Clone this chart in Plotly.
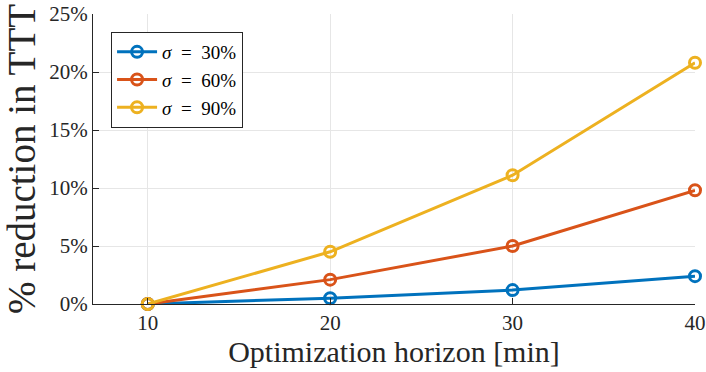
import plotly.graph_objects as go

horizon = [10, 20, 30, 40]
sigma_labels = ["<i>σ</i>\u2002=\u200230%", "<i>σ</i>\u2002=\u200260%", "<i>σ</i>\u2002=\u200290%"]
red_30 = [0.0, 0.5, 1.2, 2.4]
red_60 = [0.0, 2.1, 5.0, 9.8]
red_90 = [0.0, 4.5, 11.1, 20.8]
colors = ["#0072BD", "#D95319", "#EDB120"]

font = "Liberation Serif"

fig = go.Figure()
for name, vals, c in zip(sigma_labels, [red_30, red_60, red_90], colors):
    fig.add_trace(go.Scatter(
        x=horizon, y=vals, name=name,
        mode="lines+markers",
        line=dict(color=c, width=3),
        marker=dict(symbol="circle-open", size=11, color=c, line=dict(width=3)),
        cliponaxis=False,
    ))

fig.update_layout(
    width=706, height=372,
    margin=dict(l=93, r=11, t=14, b=68),
    paper_bgcolor="white",
    plot_bgcolor="white",
    font=dict(family=font, size=21, color="#262626"),
    showlegend=True,
    legend=dict(
        x=0.03, y=0.938, xanchor="left", yanchor="top",
        bgcolor="white", bordercolor="#262626", borderwidth=1,
        font=dict(family=font, size=19, color="#000000"),
        tracegroupgap=0, itemwidth=40,
    ),
    xaxis=dict(
        range=[7, 40],
        tickvals=horizon,
        automargin=False,
        tickfont=dict(family=font, size=21),
        showgrid=True, gridcolor="#e6e6e6", gridwidth=1,
        showline=True, linecolor="#262626", linewidth=1,
        ticks="inside", ticklen=6, tickcolor="#262626",
        zeroline=False,
        title=dict(text="Optimization horizon [min]",
                   font=dict(family=font, size=30, color="#262626"), standoff=5),
    ),
    yaxis=dict(
        range=[0, 25],
        tickvals=[0, 5, 10, 15, 20, 25],
        ticktext=["0%", "5%", "10%", "15%", "20%", "25%"],
        automargin=False,
        tickfont=dict(family=font, size=21),
        showgrid=True, gridcolor="#e6e6e6", gridwidth=1,
        showline=True, linecolor="#262626", linewidth=1,
        ticks="inside", ticklen=6, tickcolor="#262626",
        zeroline=False,
        title=dict(text="% reduction in TTT",
                   font=dict(family=font, size=39, color="#262626"), standoff=4),
    ),
)

fig.write_html("out.html", config={"displayModeBar": False},
               post_script="document.body.style.margin='0';")
